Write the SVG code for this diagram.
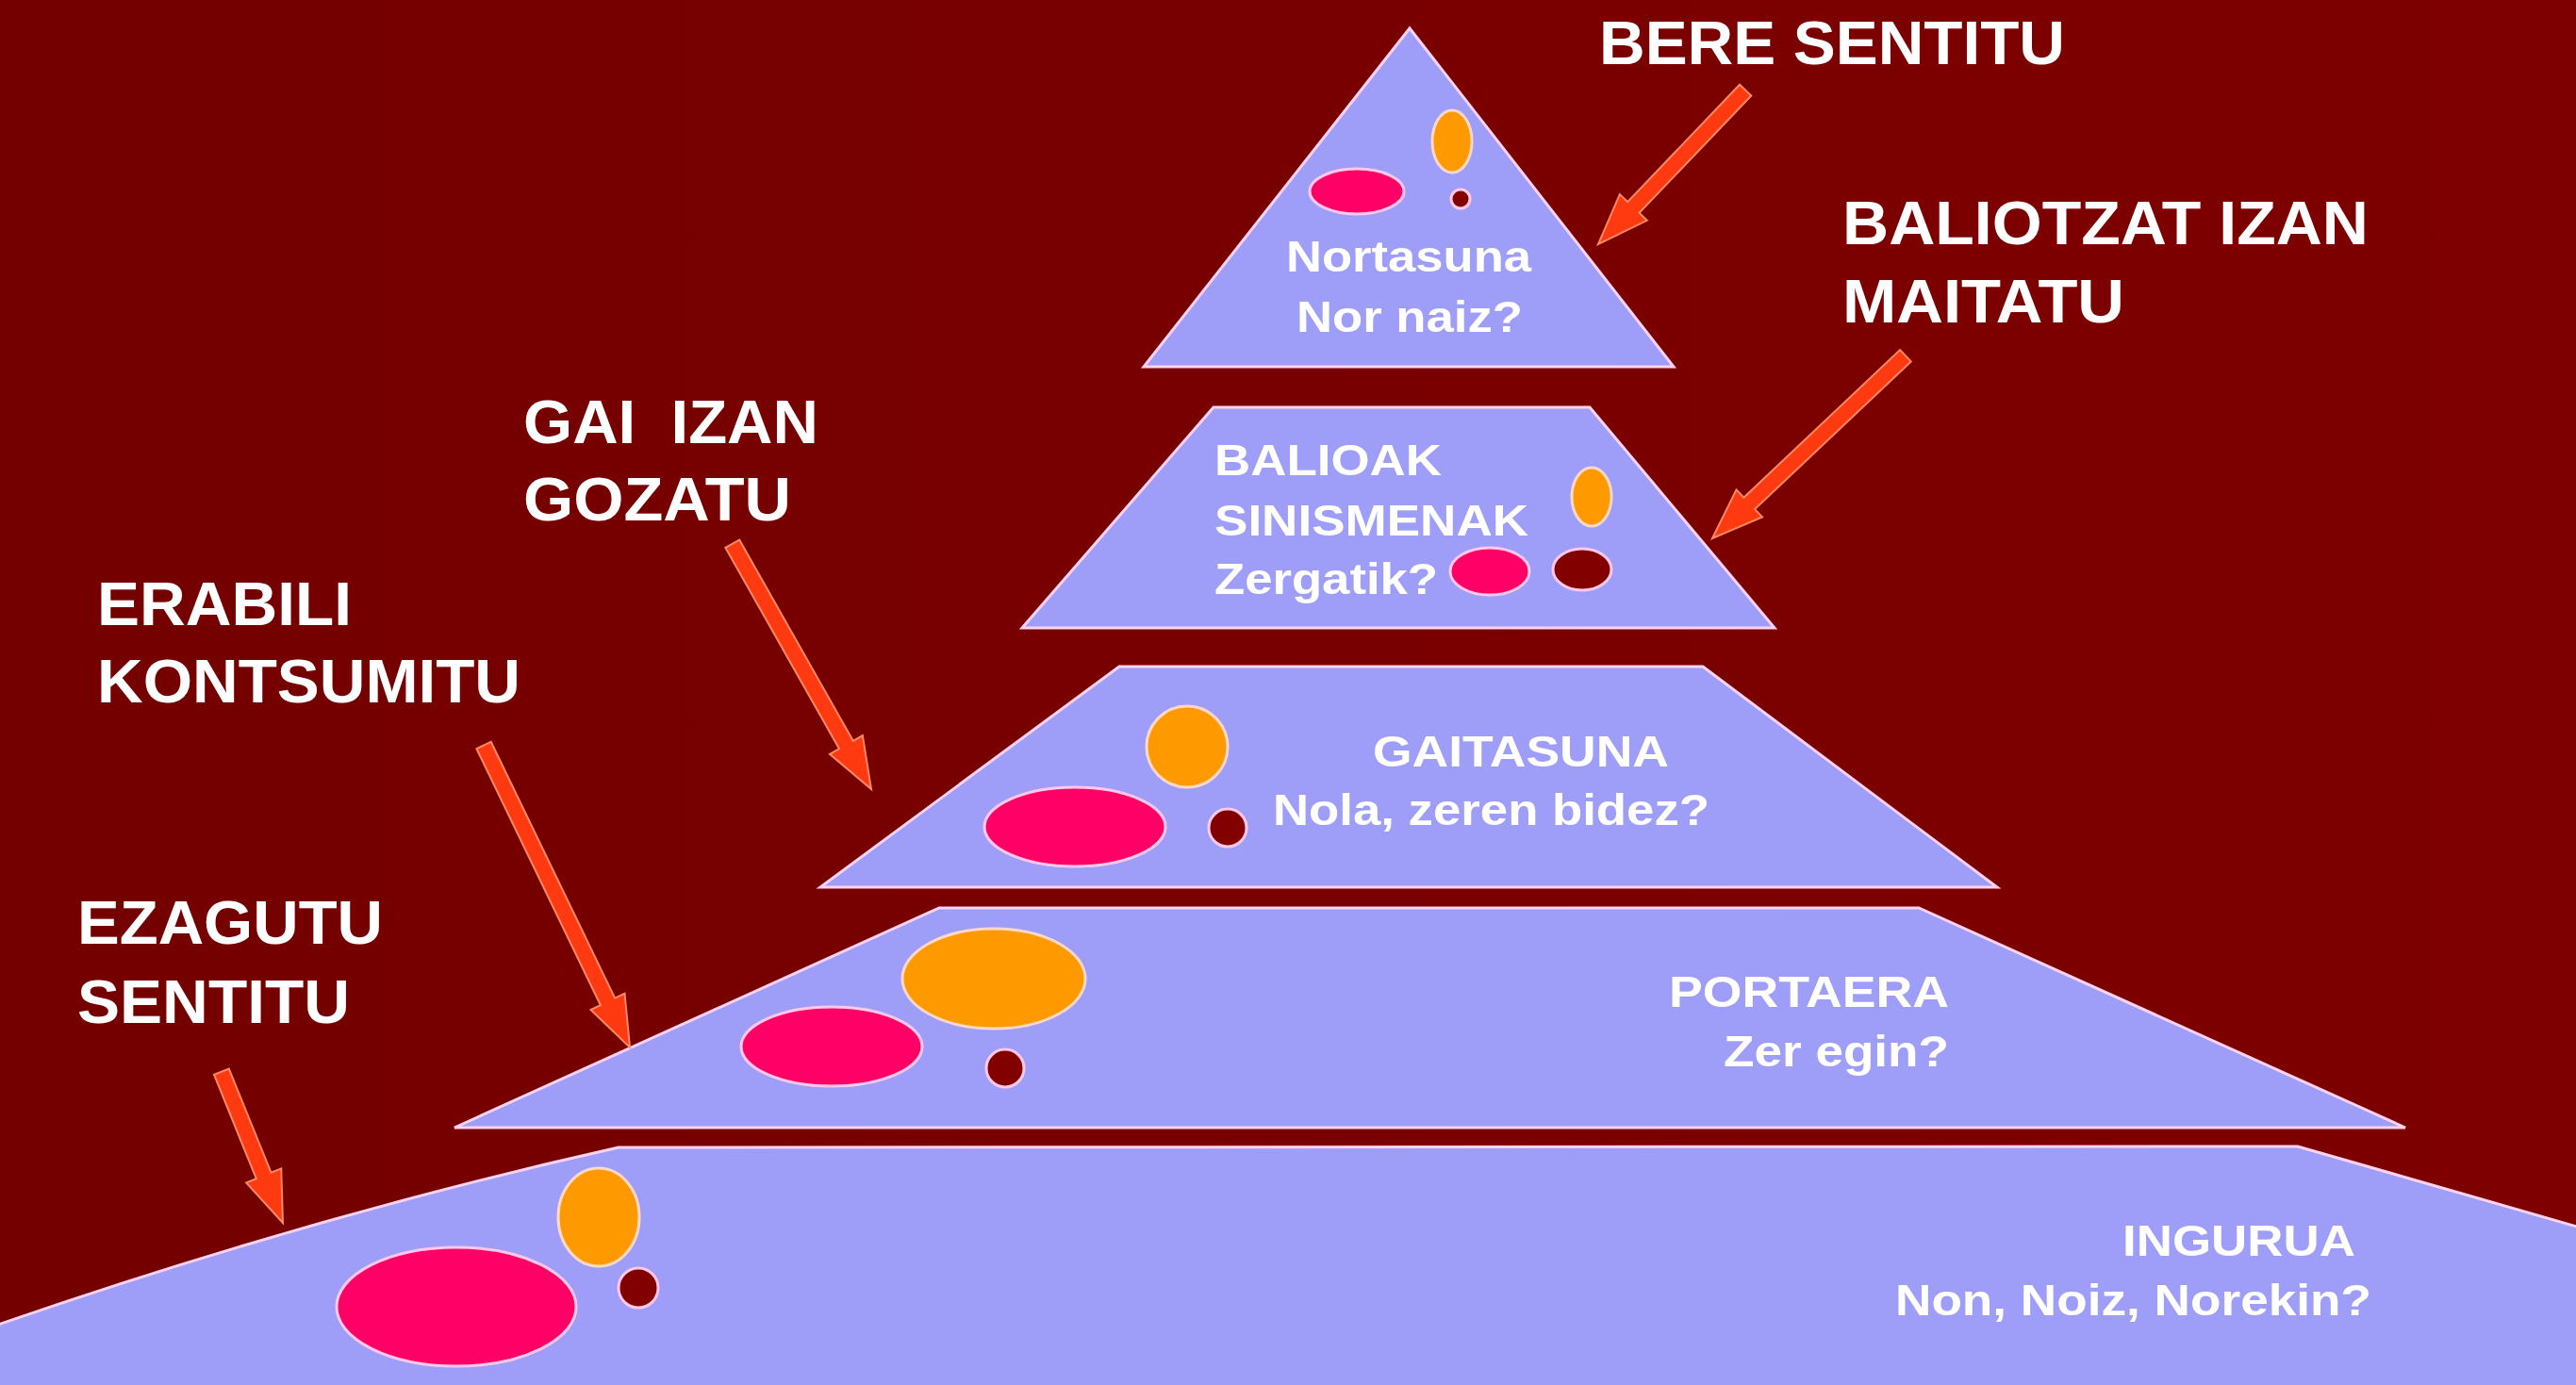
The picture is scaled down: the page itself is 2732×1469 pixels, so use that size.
<svg xmlns="http://www.w3.org/2000/svg" width="2732" height="1469" viewBox="0 0 2732 1469">
<defs>
<linearGradient id="bg" x1="0" y1="0" x2="1" y2="0">
<stop offset="0" stop-color="#740000"/>
<stop offset="1" stop-color="#7E0000"/>
</linearGradient>
<style>
.tier{fill:#9E9EF8;stroke:#FFD2F0;stroke-width:3;stroke-linejoin:miter}
.pink{fill:#FF0066;stroke:#FFC8E8;stroke-width:3}
.orange{fill:#FF9900;stroke:#FFD8C8;stroke-width:3}
.dark{fill:#820000;stroke:#FFC8E8;stroke-width:3}
.arrow{fill:#FF3A10;stroke:#FF8A66;stroke-width:2;stroke-linejoin:miter}
.big{font-family:"Liberation Sans",Arial,sans-serif;font-weight:bold;font-size:64px;fill:#FFFFFF;white-space:pre}
.small{font-family:"Liberation Sans",Arial,sans-serif;font-weight:bold;font-size:46px;fill:#FFFFFF}
</style>
</defs>
<rect x="0" y="0" width="2732" height="1469" fill="url(#bg)"/>

<g id="tier5-ingurua">
<path class="tier" d="M -5 1406 Q 330 1290 656 1217 L 2437 1216 L 2740 1303 L 2740 1475 L -5 1475 Z"/>
<ellipse class="pink" cx="484" cy="1386" rx="127" ry="63"/>
<ellipse class="orange" cx="635" cy="1291" rx="43" ry="52"/>
<circle class="dark" cx="677" cy="1366" r="21"/>
<text class="small" x="2251" y="1332" textLength="247" lengthAdjust="spacingAndGlyphs">INGURUA</text>
<text class="small" x="2010" y="1395" textLength="505" lengthAdjust="spacingAndGlyphs">Non, Noiz, Norekin?</text>
</g>

<g id="tier4-portaera">
<polygon class="tier" points="996,963 2035,963 2551,1196 482,1196"/>
<ellipse class="pink" cx="882" cy="1110" rx="96" ry="42"/>
<ellipse class="orange" cx="1054" cy="1038" rx="97" ry="53"/>
<circle class="dark" cx="1066" cy="1133" r="20"/>
<text class="small" x="1770" y="1068" textLength="297" lengthAdjust="spacingAndGlyphs">PORTAERA</text>
<text class="small" x="1828" y="1131" textLength="239" lengthAdjust="spacingAndGlyphs">Zer egin?</text>
</g>

<g id="tier3-gaitasuna">
<polygon class="tier" points="1187,707 1806,707 2118,941 870,941"/>
<ellipse class="pink" cx="1140" cy="877" rx="96" ry="42"/>
<circle class="orange" cx="1259" cy="792" r="43"/>
<circle class="dark" cx="1302" cy="878" r="20"/>
<text class="small" x="1456" y="813" textLength="314" lengthAdjust="spacingAndGlyphs">GAITASUNA</text>
<text class="small" x="1350" y="875" textLength="463" lengthAdjust="spacingAndGlyphs">Nola, zeren bidez?</text>
</g>

<g id="tier2-balioak">
<polygon class="tier" points="1287,432 1686,432 1882,666 1084,666"/>
<ellipse class="orange" cx="1688" cy="527" rx="21" ry="31"/>
<ellipse class="pink" cx="1580" cy="606" rx="42" ry="25"/>
<ellipse class="dark" cx="1678" cy="604" rx="31" ry="22"/>
<text class="small" x="1288" y="504" textLength="241" lengthAdjust="spacingAndGlyphs">BALIOAK</text>
<text class="small" x="1288" y="568" textLength="333" lengthAdjust="spacingAndGlyphs">SINISMENAK</text>
<text class="small" x="1288" y="630" textLength="237" lengthAdjust="spacingAndGlyphs">Zergatik?</text>
</g>

<g id="tier1-nortasuna">
<polygon class="tier" points="1495,30 1775,389 1213,389"/>
<ellipse class="pink" cx="1439" cy="203" rx="50" ry="24"/>
<ellipse class="orange" cx="1540" cy="150" rx="21" ry="33"/>
<circle class="dark" cx="1549" cy="211" r="10"/>
<text class="small" x="1364" y="288" textLength="260" lengthAdjust="spacingAndGlyphs">Nortasuna</text>
<text class="small" x="1375" y="352" textLength="240" lengthAdjust="spacingAndGlyphs">Nor naiz?</text>
</g>

<g id="connectors">
<polygon class="arrow" transform="translate(1695,259) rotate(133.7)" points="-226,-8.5 -54,-8.5 -54,-20 0,0 -54,20 -54,8.5 -226,8.5"/>
<polygon class="arrow" transform="translate(1816,571) rotate(136.6)" points="-282,-8.5 -54,-8.5 -54,-20 0,0 -54,20 -54,8.5 -282,8.5"/>
<polygon class="arrow" transform="translate(924,837) rotate(60.5)" points="-299,-8.5 -54,-8.5 -54,-20 0,0 -54,20 -54,8.5 -299,8.5"/>
<polygon class="arrow" transform="translate(668,1111) rotate(64.2)" points="-356,-8.5 -54,-8.5 -54,-20 0,0 -54,20 -54,8.5 -356,8.5"/>
<polygon class="arrow" transform="translate(300,1297) rotate(67.9)" points="-173,-8.5 -54,-8.5 -54,-20 0,0 -54,20 -54,8.5 -173,8.5"/>
</g>

<g id="labels">
<text class="big" x="1696" y="68" textLength="494" lengthAdjust="spacingAndGlyphs">BERE SENTITU</text>
<text class="big" x="1954" y="259" textLength="558" lengthAdjust="spacingAndGlyphs">BALIOTZAT IZAN</text>
<text class="big" x="1954" y="342" textLength="299" lengthAdjust="spacingAndGlyphs">MAITATU</text>
<text class="big" x="555" y="470" textLength="313" lengthAdjust="spacingAndGlyphs" xml:space="preserve">GAI  IZAN</text>
<text class="big" x="555" y="552" textLength="284" lengthAdjust="spacingAndGlyphs">GOZATU</text>
<text class="big" x="103" y="663" textLength="270" lengthAdjust="spacingAndGlyphs">ERABILI</text>
<text class="big" x="103" y="745" textLength="449" lengthAdjust="spacingAndGlyphs">KONTSUMITU</text>
<text class="big" x="82" y="1001" textLength="324" lengthAdjust="spacingAndGlyphs">EZAGUTU</text>
<text class="big" x="82" y="1085" textLength="289" lengthAdjust="spacingAndGlyphs">SENTITU</text>
</g>
</svg>
